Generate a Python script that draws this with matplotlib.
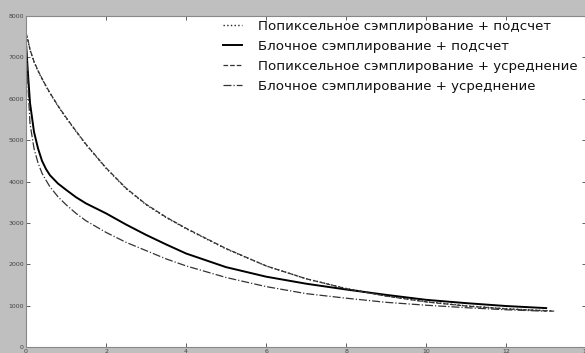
import matplotlib
matplotlib.use("Agg")
import matplotlib.pyplot as plt

x_pts = [0, 0.05, 0.1, 0.2, 0.3, 0.4, 0.5, 0.6, 0.8, 1.0, 1.25, 1.5, 2, 2.5, 3, 3.5, 4,
         5, 6, 7, 8, 9, 10, 11, 12, 13]
x_pix = x_pts + [13.2]

pixel_count = [7590, 7400, 7180, 6890, 6670, 6480, 6300, 6130, 5820, 5540, 5210, 4890, 4320,
               3830, 3440, 3130, 2860, 2370, 1960, 1650, 1415, 1235, 1095, 995, 925, 878, 868]
block_count = [7350, 6600, 5900, 5200, 4800, 4500, 4300, 4150, 3950, 3800, 3620, 3470, 3230,
               2960, 2710, 2480, 2260, 1930, 1700, 1530, 1390, 1260, 1140, 1060, 990, 940]
pixel_avg = [7600, 7410, 7190, 6900, 6680, 6490, 6310, 6140, 5830, 5550, 5220, 4900, 4330,
             3840, 3450, 3140, 2870, 2380, 1960, 1650, 1410, 1230, 1090, 990, 920, 875, 865]
block_avg = [7500, 6300, 5400, 4800, 4450, 4200, 4030, 3870, 3630, 3440, 3230, 3050, 2770,
             2530, 2330, 2130, 1960, 1680, 1460, 1290, 1180, 1080, 1010, 950, 900, 865]
block_avg_x = x_pts

labels = ["Попиксельное сэмплирование + подсчет",
          "Блочное сэмплирование + подсчет",
          "Попиксельное сэмплирование + усреднение",
          "Блочное сэмплирование + усреднение"]
xticks = [0, 2, 4, 6, 8, 10, 12, 14]
yticks = [0, 1000, 2000, 3000, 4000, 5000, 6000, 7000, 8000]

fig = plt.figure(figsize=(5.85, 3.53), dpi=100)
fig.patch.set_facecolor("#bfbfbf")
ax = fig.add_axes([26/585, 6/353, 1 - 26/585 + 0.002, (347-16)/353])
ax.set_facecolor("white")

ax.plot(x_pix, pixel_count, linestyle=":", color="#222222", linewidth=1.0, label=labels[0])
ax.plot(x_pts, block_count, linestyle="-", color="black", linewidth=1.4, label=labels[1])
ax.plot(x_pix, pixel_avg, linestyle="--", color="#333333", linewidth=0.9, label=labels[2])
ax.plot(block_avg_x, block_avg, linestyle="-.", color="#333333", linewidth=0.9, label=labels[3])

ax.set_xlim(0, 14)
ax.set_ylim(0, 8000)
ax.set_xticks(xticks)
ax.set_yticks(yticks)
ax.tick_params(direction="in", length=3, width=0.6, labelsize=4.5, colors="#444444",
               top=True, right=True, pad=1.5)
for s in ax.spines.values():
    s.set_color("#888888")
    s.set_linewidth(0.8)

leg = ax.legend(loc="upper left", frameon=False, fontsize=9.6, labelspacing=0.52,
                handlelength=1.45, handletextpad=1.15, borderaxespad=0, borderpad=0,
                bbox_to_anchor=(223/585, 1 - 20/353), bbox_transform=fig.transFigure)
for t in leg.get_texts():
    t.set_color("#111111")

fig.savefig("out.png", dpi=100, facecolor=fig.get_facecolor())
